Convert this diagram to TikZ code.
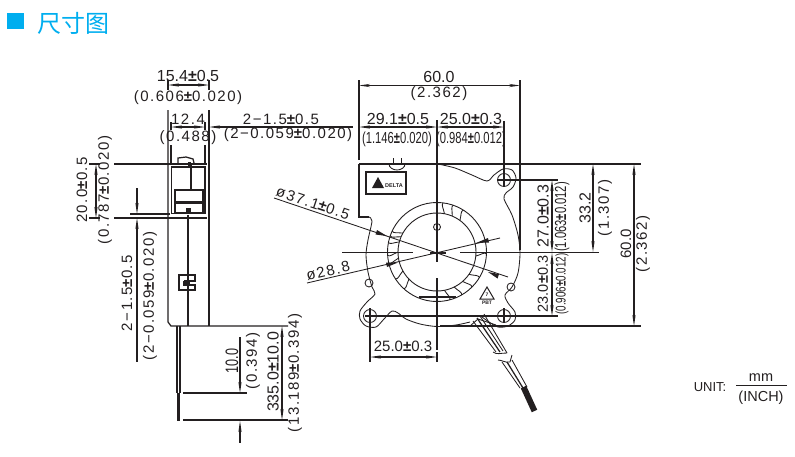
\documentclass[tikz,border=0pt]{standalone}
\usepackage{fontspec}
\setmainfont{Liberation Sans}
\newfontfamily\dimfont[LetterSpace=10]{Liberation Sans}
\newfontfamily\narrowfont[FakeStretch=0.7]{Liberation Sans}
\newfontfamily\cjkfont{Noto Sans CJK SC}
\usetikzlibrary{arrows.meta}
\definecolor{titleblue}{RGB}{0,174,239}
\definecolor{inkdark}{RGB}{35,31,32}
\def\plmn{{\bfseries ±}}
\tikzset{
	bold/.style={line width=1.25pt, color=inkdark},
	fine/.style={line width=0.85pt, color=inkdark},
	dimline/.style={line width=1.1pt, color=inkdark, >={Stealth[length=11pt,width=3.2pt]}},
	dimtext/.style={font=\dimfont\fontsize{15}{15}\selectfont, color=inkdark, inner sep=0pt},
	plaintext/.style={font=\fontsize{16}{16}\selectfont, color=inkdark, inner sep=0pt},
	narrowtext/.style={font=\narrowfont\fontsize{16}{16}\selectfont, color=inkdark, inner sep=0pt},
	unittext/.style={font=\fontsize{13}{14}\selectfont, color=inkdark, inner sep=0pt},
}
\begin{document}
\begin{tikzpicture}[x=1pt, y=-1pt]
	\useasboundingbox (0, 0) rectangle (795, 456);
	%%%%% TITLE %%%%%
	\fill[titleblue] (7, 13) rectangle (24, 29);
	\node[font=\cjkfont\fontsize{24}{24}\selectfont, color=titleblue, inner sep=0pt] (title) at (73, 23) {尺寸图};

	%%%%% SIDE VIEW %%%%%
	\draw[bold] (168, 80) -- (168, 90);
	\draw[bold] (209, 80) -- (209, 90);
	\draw[bold] (168, 110) -- (168, 322) -- (171, 326) -- (288, 326);
	\draw[bold] (209, 110) -- (209, 326);
	\draw[bold] (171, 122) -- (171, 130);
	\draw[bold] (205, 122) -- (205, 130);
	\draw[bold] (171, 145) -- (171, 164);
	\draw[bold] (205, 145) -- (205, 164);
	\draw[bold] (89, 164) -- (100, 164);
	\draw[bold] (114, 164) -- (207, 164);
	\draw[bold] (89, 218) -- (100, 218);
	\draw[bold] (114, 218) -- (207, 218);
	\draw[bold] (171.5, 167) rectangle (205, 213.5);
	\draw[bold] (175, 190) rectangle (203, 213);
	\draw[bold] (191, 164) -- (191, 190);
	\fill[inkdark] (188, 162) rectangle (191, 167);
	\draw[line width=2pt, color=inkdark] (175, 190) -- (203, 190);
	\draw[line width=3pt, color=inkdark] (175, 202) -- (203, 202);
	\fill[inkdark] (186, 213) rectangle (191, 208);
	\draw[bold] (178, 163) -- (178, 158) -- (186, 157) -- (193, 159) -- (194, 163);
	\draw[line width=1.8pt, color=inkdark] (188, 215) -- (188, 326);
	\draw[line width=1.1pt, color=inkdark] (195, 275) -- (179, 275) -- (179, 290) -- (195, 290) -- (195, 285) -- (185, 285) -- (185, 281) -- (195, 281) -- cycle;
	\fill[inkdark] (183, 281) rectangle (190, 286);
	\draw[bold] (177, 326) -- (177, 393);
	\draw[bold] (180, 326) -- (180, 393);
	\draw[line width=2.2pt, color=inkdark] (178.5, 393) -- (178.5, 421);
	\draw[bold] (183, 393) -- (247, 393);
	\draw[bold] (183, 420) -- (288, 420);
	\draw[bold] (130, 214) -- (170, 214);

	%%%%% SIDE VIEW DIMENSIONS %%%%%
	\draw[dimline, <->] (168, 85) -- (209, 85);
	\draw[dimline, <->] (171, 127) -- (205, 127);
	\draw[dimline, <-] (209, 127) -- (353, 127);
	\draw[dimline, <->] (96, 164) -- (96, 218);
	\draw[dimline, ->] (137, 188) -- (137, 214);
	\draw[dimline, <-] (137, 218) -- (137, 362);
	\draw[dimline, ->] (240, 337) -- (240, 393);
	\draw[dimline, <-] (240, 421) -- (240, 443);
	\draw[dimline, <->] (282, 326) -- (282, 420);

	\node[plaintext] (sidewidth) at (188, 76) {15.4\plmn0.5};
	\node[dimtext] (sidewidthinch) at (188, 98) {(0.606\plmn0.020)};
	\node[dimtext] (innerwidth) at (188, 119) {12.4};
	\node[dimtext] (innerwidthinch) at (188, 138) {(0.488)};
	\node[dimtext] (hole) at (281, 119) {2−1.5\plmn0.5};
	\node[dimtext] (holeinch) at (288, 135) {(2−0.059\plmn0.020)};
	\node[dimtext, rotate=90] (boss) at (82, 190) {20.0\plmn0.5};
	\node[dimtext, rotate=90] (bossinch) at (105, 190) {(0.787\plmn0.020)};
	\node[dimtext, rotate=90] (holeb) at (127, 293) {2−1.5\plmn0.5};
	\node[dimtext, rotate=90] (holebinch) at (150, 296) {(2−0.059\plmn0.020)};
	\node[narrowtext, rotate=90, font=\narrowfont\fontsize{18}{18}\selectfont] (strip) at (232, 361) {10.0};
	\node[dimtext, rotate=90] (stripinch) at (253, 361) {(0.394)};
	\node[plaintext, rotate=90] (lead) at (273, 372) {335.0\plmn10.0};
	\node[dimtext, rotate=90] (leadinch) at (295, 373) {(13.189\plmn0.394)};

	%%%%% FRONT VIEW %%%%%
	\draw[bold] (359, 80) -- (359, 160);
	\draw[bold] (359, 164) -- (641, 164);
	\draw[bold] (359, 164) -- (359, 217) -- (369, 217);
	\draw[bold] (520, 80) -- (520, 250);
	\draw[bold] (437, 120) -- (437, 262);
	\draw[bold] (437, 278) -- (437, 350);
	\draw[bold] (437, 352) -- (437, 362);
	\draw[bold] (370, 308) -- (370, 362);
	\draw[bold] (504, 121) -- (504, 187);
	\draw[bold] (497, 180) -- (558, 180);
	\draw[bold] (342, 252.5) -- (413, 252.5);
	\draw[line width=2pt, color=inkdark] (430, 252.5) -- (446, 252.5);
	\draw[bold] (460, 252.5) -- (599, 252.5);
	\draw[bold] (365, 316) -- (558, 316);
	\draw[bold] (440, 326) -- (641, 326);
	\draw[bold] (419, 297) -- (456, 297);
	\draw[bold] (504, 308) -- (504, 323);
	\draw[fine] (437, 227) circle (3.5);

	\draw[bold] (366, 172) rectangle (406, 194);
	\fill[inkdark] (372, 188) -- (378, 177) -- (384, 188) -- cycle;
	\node[font=\bfseries\fontsize{5.5}{6}\selectfont, color=inkdark, inner sep=0pt, anchor=west] (logo) at (385, 186) {DELTA};

	\draw[fine] plot[smooth] coordinates {(369, 217) (372, 221) (368, 240) (366, 255) (368, 272) (372, 287) (375, 294) (367, 302) (360, 311) (360, 319) (366, 326) (376, 327) (384, 319) (392, 311) (398, 313) (406, 319) (420, 324) (437, 326.5) (456, 325) (470, 322)};
	\draw[fine] plot[smooth] coordinates {(438, 164) (455, 168) (472, 175) (487, 181) (494, 175) (503, 169) (512, 170) (516, 178) (513, 187) (506, 193) (504, 199) (512, 215) (518, 235) (520, 253) (518, 273) (512, 287) (505, 295) (508, 303) (515, 312) (515, 320) (508, 326) (498, 327) (489, 322) (482, 317)};
	\draw[fine] (504, 180) circle (6.5);
	\draw[fine] (504, 316) circle (6.5);
	\draw[fine] (370, 316) circle (6.5);
	\draw[fine] (369, 283) circle (4);
	\draw[fine] (511, 287) circle (4);
	\draw[fine] (389, 164) arc (180:360:8 and -6);
	\draw[fine] (393, 158) -- (393, 164);
	\draw[fine] (401, 158) -- (401, 164);

	%%%%% BLOWER RING %%%%%
	\draw[line width=0.9pt, color=inkdark] (437, 252) circle (49.5);
	\draw[line width=0.9pt, color=inkdark] (437, 252) circle (39);
	\foreach \bladeangle in {79, 67, 54, 157, 151, 165, 180, 189, 209, 224, 281, 296, 311, 325, 354}
		\draw[fine] ({437+39*cos(\bladeangle)}, {252-39*sin(\bladeangle)}) .. controls ({437+45*cos(\bladeangle+3)}, {252-45*sin(\bladeangle+3)}) and ({437+47*cos(\bladeangle+6)}, {252-47*sin(\bladeangle+6)}) .. ({437+49.5*cos(\bladeangle+4)}, {252-49.5*sin(\bladeangle+4)});

	%%%%% DIAMETERS %%%%%
	\draw[fine] (274, 198) -- (508, 277);
	\draw[fine] (307, 283) -- (500, 238);
	\fill[inkdark] (387, 236) -- (377, 230) -- (375.5, 234.5) -- cycle;
	\fill[inkdark] (488, 272) -- (499, 274) -- (497.5, 278.5) -- cycle;
	\fill[inkdark] (398, 262.5) -- (386, 262.5) -- (387, 267) -- cycle;
	\fill[inkdark] (476, 243) -- (488, 238) -- (489, 242.5) -- cycle;
	\node[dimtext, rotate=-18.6] (outerdia) at (313, 203) {ø37.1\plmn0.5};
	\node[dimtext, rotate=13] (innerdia) at (328, 271) {ø28.8};

	%%%%% CABLE %%%%%
	\draw[fine] (473, 321) -- (496, 352);
	\draw[bold] (477, 318) -- (500, 352);
	\draw[fine] (480, 316) -- (503, 351);
	\draw[fine] (484, 314) -- (507, 353);
	\draw[fine] (470, 326) -- (478, 319) -- (496, 325);
	\draw[fine] (493, 352) .. controls (497, 355) and (500, 353) .. (507, 353);
	\draw[fine] (498, 360) .. controls (502, 360) and (505, 363) .. (510, 362) -- (512, 355);
	\draw[fine] (502, 362) -- (520, 388);
	\draw[bold] (507, 362) -- (523, 388);
	\draw[fine] (512, 360) -- (527, 387);
	\draw[line width=6pt, color=inkdark] (523.5, 387) -- (534.5, 411);

	%%%%% RECYCLE MARK %%%%%
	\draw[line width=1pt, color=inkdark] (487, 287) -- (494, 299) -- (480, 299) -- cycle;
	\node[font=\bfseries\fontsize{5}{5}\selectfont, color=inkdark, inner sep=0pt] (recyclenum) at (487, 295) {7};
	\node[font=\bfseries\fontsize{5}{5}\selectfont, color=inkdark, inner sep=0pt] (recyclename) at (487, 303) {PBT};

	%%%%% FRONT VIEW DIMENSIONS %%%%%
	\draw[dimline, <->] (359, 85.5) -- (520, 85.5);
	\draw[dimline, <->] (359, 127) -- (437, 127);
	\draw[dimline, <->] (437, 127) -- (504, 127);
	\draw[dimline, <->] (370, 357) -- (437, 357);
	\draw[dimline, <->] (552, 180) -- (552, 252);
	\draw[dimline, <->] (552, 253) -- (552, 316);
	\draw[dimline, <->] (593, 164) -- (593, 252);
	\draw[dimline, <->] (634, 164) -- (634, 326);

	\node[plaintext] (fullwidth) at (439, 77) {60.0};
	\node[dimtext] (fullwidthinch) at (439, 94) {(2.362)};
	\node[plaintext] (holex) at (398, 119) {29.1\plmn0.5};
	\node[plaintext] (holexb) at (471, 119) {25.0\plmn0.3};
	\node[narrowtext] (holexinch) at (397, 139) {(1.146\plmn0.020)};
	\node[narrowtext] (holexbinch) at (471, 139) {(0.984\plmn0.012)};
	\node[plaintext, font=\fontsize{15}{15}\selectfont] (pitch) at (403, 346) {25.0\plmn0.3};
	\node[plaintext, rotate=90] (upper) at (543, 216) {27.0\plmn0.3};
	\node[narrowtext, rotate=90] (upperinch) at (562, 217) {(1.063\plmn0.012)};
	\node[plaintext, rotate=90, font=\fontsize{14.5}{15}\selectfont] (lower) at (543, 284) {23.0\plmn0.3};
	\node[narrowtext, rotate=90, font=\narrowfont\fontsize{14}{14}\selectfont] (lowerinch) at (562, 284) {(0.906\plmn0.012)};
	\node[plaintext, rotate=90] (height) at (585, 208) {33.2};
	\node[dimtext, rotate=90] (heightinch) at (605, 208) {(1.307)};
	\node[plaintext, rotate=90, font=\fontsize{15}{15}\selectfont] (fullheight) at (626, 244) {60.0};
	\node[dimtext, rotate=90] (fullheightinch) at (643, 244) {(2.362)};

	%%%%% UNIT %%%%%
	\node[unittext] (unit) at (710, 387) {UNIT:};
	\node[unittext, font=\fontsize{14.5}{15}\selectfont] (mm) at (761, 378) {mm};
	\node[unittext, font=\fontsize{14.5}{15}\selectfont] (inch) at (761, 398) {(INCH)};
	\draw[line width=0.8pt, color=inkdark] (736, 385) -- (787, 385);
\end{tikzpicture}
\end{document}
